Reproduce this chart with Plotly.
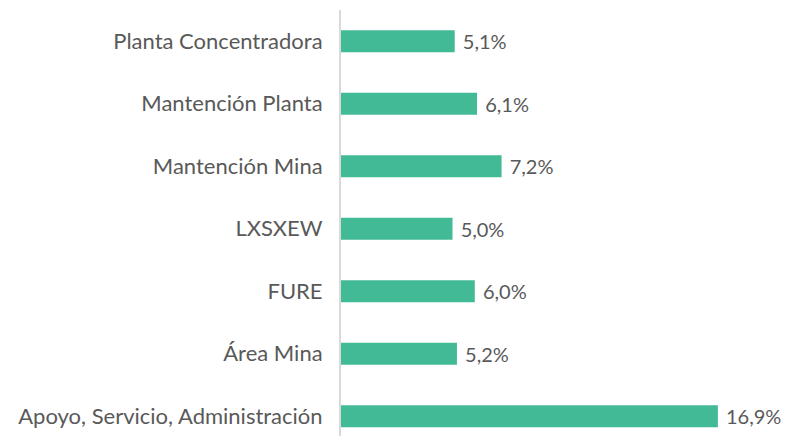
import plotly.graph_objects as go

categories = ["Apoyo, Servicio, Administración", "Área Mina", "FURE", "LXSXEW",
              "Mantención Mina", "Mantención Planta", "Planta Concentradora"]
values = [16.9, 5.2, 6.0, 5.0, 7.2, 6.1, 5.1]
labels = [f"{v:.1f}%".replace(".", ",") for v in values]

fig = go.Figure(go.Bar(
    y=categories, x=values, orientation="h",
    marker=dict(color="#43BA96", line=dict(width=0)),
    text=[" " + t for t in labels], textposition="outside",
    constraintext="none",
    textfont=dict(color="#595959", size=20, family="Lato"),
    cliponaxis=False, width=0.352,
))
fig.update_layout(
    width=787, height=428, margin=dict(l=333, r=12, t=2, b=0, autoexpand=False),
    paper_bgcolor="white", plot_bgcolor="white", showlegend=False,
    font=dict(family="Lato", color="#595959", size=22),
    uniformtext=dict(mode=False),
)
fig.update_xaxes(range=[0, 19.82], visible=False, automargin=False)
fig.update_yaxes(showline=True, linecolor="#D9D9D9", linewidth=2, ticks="",
                 tickfont=dict(size=22, color="#595959"), ticklabelstandoff=12,
                 automargin=False, range=[-0.316, 6.5],
                 categoryorder="array", categoryarray=categories)
fig.write_html("out.html")
